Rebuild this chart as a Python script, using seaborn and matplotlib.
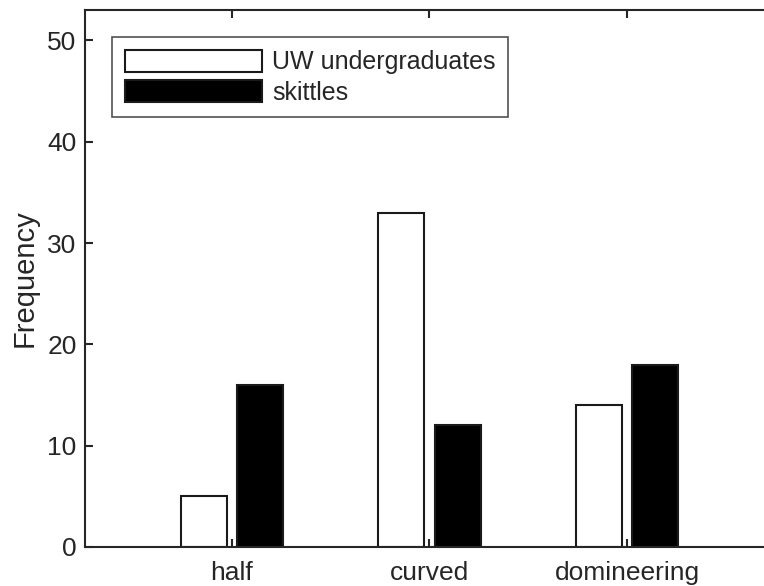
import matplotlib
matplotlib.use("Agg")
import matplotlib.pyplot as plt
import seaborn as sns
import pandas as pd

categories = ["half", "curved", "domineering"]
series_names = ["UW undergraduates", "skittles"]
uw_values = [5, 33, 14]
skittles_values = [16, 12, 18]
y_ticks = [0, 10, 20, 30, 40, 50]

sns.set_theme(style="white")
plt.rcParams['font.family'] = ['Liberation Sans', 'DejaVu Sans']
TXT = "#262626"

df = pd.DataFrame({
    "category": categories * 2,
    "series": [series_names[0]] * 3 + [series_names[1]] * 3,
    "value": uw_values + skittles_values,
})

W, H = 764, 586
fig = plt.figure(figsize=(W / 100, H / 100), dpi=100)
ax = fig.add_axes([85 / W, (H - 547) / H, (774 - 85) / W, (547 - 10) / H])

sns.barplot(data=df, x="category", y="value", hue="series", order=categories,
            hue_order=series_names, palette=["white", "black"], width=0.57, gap=0.18,
            edgecolor="#1a1a1a", linewidth=1.5, ax=ax, legend=True)

ax.set_xlim(-0.744, 2.744)
ax.set_ylim(0, 53)
ax.set_yticks(y_ticks)
ax.set_xlabel("")
ax.set_ylabel("Frequency", fontsize=21, color=TXT, labelpad=6)

for side in ["left", "bottom", "top"]:
    ax.spines[side].set_visible(True)
    ax.spines[side].set_color(TXT)
    ax.spines[side].set_linewidth(1.5)
ax.spines["right"].set_visible(False)

ax.tick_params(axis="both", direction="in", length=6, width=1.5, color=TXT,
               labelsize=19, labelcolor=TXT)
ax.tick_params(axis="x", top=True, bottom=True, pad=10)
ax.tick_params(axis="y", left=True, pad=6)

leg = ax.legend(loc="upper left", bbox_to_anchor=(27 / 689, 1 - 27 / 537),
                borderaxespad=0, fontsize=18, frameon=True, fancybox=False,
                handlelength=5.5, handleheight=0.98, handletextpad=0.4,
                labelspacing=0.25, borderpad=0.5)
leg.get_frame().set_edgecolor(TXT)
leg.get_frame().set_linewidth(1.2)
for t in leg.get_texts():
    t.set_color(TXT)

fig.savefig("out.png", dpi=100)
